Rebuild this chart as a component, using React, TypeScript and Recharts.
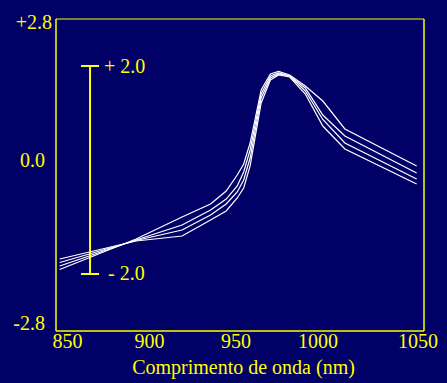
import { LineChart, Line, XAxis, YAxis, ReferenceLine } from "recharts";

const wavelengths = [852, 893.5, 918.5, 934, 942.5, 948.5, 952, 955.5, 961.5, 966.5, 971, 977, 985.5, 995, 1007, 1046];
const seriesA = [-1.696, -1.149, -0.754, -0.521, -0.287, 0.0, 0.197, 0.574, 1.526, 1.813, 1.858, 1.795, 1.597, 1.328, 0.826, 0.162];
const seriesB = [-1.633, -1.167, -0.897, -0.628, -0.431, -0.197, 0.054, 0.449, 1.454, 1.777, 1.831, 1.777, 1.562, 1.077, 0.7, 0.036];
const seriesC = [-1.571, -1.176, -0.987, -0.718, -0.521, -0.305, -0.09, 0.305, 1.382, 1.741, 1.813, 1.777, 1.508, 0.996, 0.574, -0.072];
const seriesD = [-1.508, -1.185, -1.095, -0.808, -0.646, -0.413, -0.233, 0.162, 1.292, 1.705, 1.795, 1.759, 1.454, 0.879, 0.467, -0.162];

const xTicks = [850, 900, 950, 1000, 1050];
const yTicks = [-2.8, 0, 2.8];
const yTickLabels: Record<string, string> = { "2.8": "+2.8", "0": "0.0", "-2.8": "-2.8" };

// scale bar drawn in data units
const barX = 868.5;
const barTop = 1.956;
const barBottom = -1.777;
const barHalf = 4.9;

const BG = "#000066";
const YELLOW = "#ffff00";
const FONT = "'Liberation Serif', 'Times New Roman', serif";

const data = wavelengths.map((w, i) => ({
  w,
  a: seriesA[i],
  b: seriesB[i],
  c: seriesC[i],
  d: seriesD[i],
}));

// hand-placed label nudges from the original slide
const xNudge: Record<number, number> = { 850: 11.5, 900: 1.5, 950: -4, 1000: -14, 1050: -6 };
const yNudge: Record<string, { dx: number; dy: number }> = {
  "2.8": { dx: 0, dy: 3 },
  "0": { dx: -7, dy: -15.5 },
  "-2.8": { dx: -7, dy: -8 },
};

function XTick(props: any) {
  const { x, payload } = props;
  const v = payload.value as number;
  return (
    <text x={x + (xNudge[v] ?? 0)} y={348} textAnchor="middle" fill={YELLOW} fontSize={20} fontFamily={FONT}>
      {v}
    </text>
  );
}

function YTick(props: any) {
  const { y, payload } = props;
  const key = String(payload.value);
  const n = yNudge[key] ?? { dx: 0, dy: 0 };
  return (
    <text x={52 + n.dx} y={y + n.dy + 7} textAnchor="end" fill={YELLOW} fontSize={20} fontFamily={FONT}>
      {yTickLabels[key]}
    </text>
  );
}

export default function App() {
  return (
    <div style={{ position: "fixed", left: 0, top: 0, width: 447, height: 383, background: BG }}>
      <LineChart width={447} height={383} data={data} margin={{ top: 19, right: 23, left: 0, bottom: 0 }}>
        <XAxis
          dataKey="w"
          type="number"
          domain={[850, 1050]}
          ticks={xTicks}
          interval={0}
          height={52}
          tickLine={false}
          axisLine={{ stroke: YELLOW, strokeWidth: 1.5 }}
          tick={<XTick />}
          label={(p: any) => {
            const vb = p.viewBox;
            return (
              <text x={vb.x + vb.width / 2 + 3.5} y={vb.y + 43} textAnchor="middle" fill={YELLOW} fontSize={20} fontFamily={FONT}>
                Comprimento de onda (nm)
              </text>
            );
          }}
        />
        <YAxis
          type="number"
          domain={[-2.8, 2.8]}
          ticks={yTicks}
          width={56}
          tickLine={false}
          axisLine={{ stroke: YELLOW, strokeWidth: 1.5 }}
          tick={<YTick />}
        />
        <ReferenceLine x={1050} stroke={YELLOW} strokeWidth={1.5} />
        <ReferenceLine y={2.8} stroke={YELLOW} strokeWidth={1} />

        <ReferenceLine
          segment={[{ x: barX, y: barTop }, { x: barX, y: barBottom }]}
          stroke={YELLOW}
          strokeWidth={2}
        />
        <ReferenceLine
          segment={[{ x: barX - barHalf, y: barTop }, { x: barX + barHalf, y: barTop }]}
          stroke={YELLOW}
          strokeWidth={2}
          label={(p: any) => {
            const vb = p.viewBox;
            return (
              <text x={vb.x + vb.width + 5} y={vb.y + 7} fill={YELLOW} fontSize={20} fontFamily={FONT}>
                + 2.0
              </text>
            );
          }}
        />
        <ReferenceLine
          segment={[{ x: barX - barHalf, y: barBottom }, { x: barX + barHalf, y: barBottom }]}
          stroke={YELLOW}
          strokeWidth={2}
          label={(p: any) => {
            const vb = p.viewBox;
            return (
              <text x={vb.x + vb.width + 9} y={vb.y + 6} fill={YELLOW} fontSize={20} fontFamily={FONT}>
                - 2.0
              </text>
            );
          }}
        />

        {["a", "b", "c", "d"].map((k) => (
          <Line
            key={k}
            type="linear"
            dataKey={k}
            stroke="#ffffff"
            strokeWidth={1.2}
            dot={false}
            isAnimationActive={false}
          />
        ))}
      </LineChart>
    </div>
  );
}
